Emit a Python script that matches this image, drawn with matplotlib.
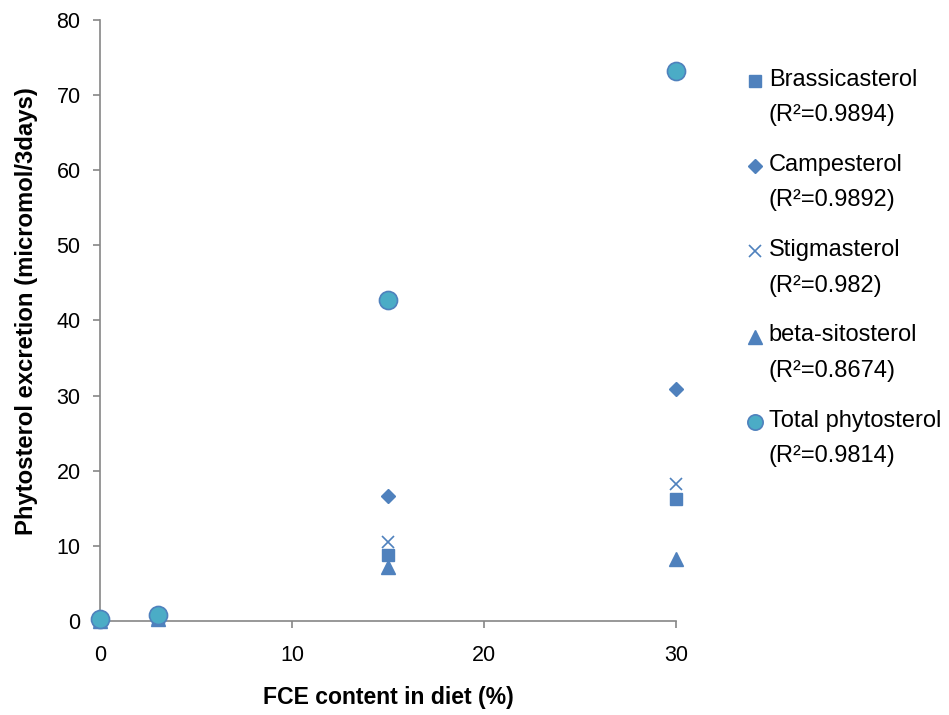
import matplotlib
matplotlib.use('Agg')
import matplotlib.pyplot as plt
import numpy as np

plt.rcParams['font.family'] = ['Liberation Sans', 'DejaVu Sans']

# FCE content in diet (%)
fce = [0, 3, 15, 30]

# phytosterol excretion (micromol/3days)
brassicasterol = [0.05, 0.2, 8.8, 16.3]
campesterol = [0.1, 0.3, 16.6, 30.9]
stigmasterol = [0.05, 0.2, 10.5, 18.2]
sitosterol = [0.05, 0.2, 7.2, 8.3]
total = [0.3, 0.8, 42.7, 73.2]

names = ['Brassicasterol', 'Campesterol', 'Stigmasterol', 'beta-sitosterol', 'Total phytosterol']
r2 = ['0.9894', '0.9892', '0.982', '0.8674', '0.9814']

blue = '#4F81BD'
aqua = '#4BACC6'
grey = '#868686'

fig = plt.figure(figsize=(9.49, 7.15), dpi=100)
ax = fig.add_axes([0.1054, 0.1315, 0.6069, 0.8405])

series = [brassicasterol, campesterol, stigmasterol, sitosterol, total]
styles = [
    dict(marker='s', markersize=9, color=blue),
    dict(marker='D', markersize=7.5, color=blue),
    dict(marker='x', markersize=9, color=blue, markeredgewidth=1.2),
    dict(marker='^', markersize=10, color=blue),
    dict(marker='o', markersize=13, markerfacecolor=aqua, markeredgecolor=blue, markeredgewidth=1.2),
]
handles = []
for vals, st in zip(series, styles):
    h, = ax.plot(fce, vals, linestyle='none', clip_on=False, zorder=3, **st)
    handles.append(h)

labels = [n + '\n(R\u00b2=' + r + ')' for n, r in zip(names, r2)]

ax.set_xlim(0, 30)
ax.set_ylim(0, 80)
ax.set_xticks([0, 10, 20, 30])
ax.set_yticks(np.arange(0, 81, 10))
for s in ['top', 'right']:
    ax.spines[s].set_visible(False)
for s in ['left', 'bottom']:
    ax.spines[s].set_color(grey)
    ax.spines[s].set_linewidth(1.2)
ax.tick_params(direction='out', length=5, width=1.2, color=grey, labelsize=15.5, labelcolor='black')
ax.tick_params(axis='x', pad=12)
ax.tick_params(axis='y', pad=9)

ax.set_xlabel('FCE content in diet (%)', fontsize=16.6, fontweight='bold', labelpad=15)
ax.set_ylabel('Phytosterol excretion (micromol/3days)', fontsize=17.2, fontweight='bold')
ax.yaxis.set_label_coords(-0.108, 0.516)

leg = fig.legend(handles, labels, loc='upper left', bbox_to_anchor=(0.774, 0.9205),
                 frameon=False, fontsize=17, numpoints=1, handlelength=0.7,
                 handletextpad=0.25, labelspacing=1.17, borderpad=0)
for t in leg.get_texts():
    t.set_linespacing(1.8)
# put the marker next to the first line of each label
for h in leg.legend_handles:
    y = h.get_ydata()
    h.set_ydata(np.asarray(y) + 12)
leg.legend_handles[4].set_markersize(11)

fig.savefig('out.png', dpi=100)
